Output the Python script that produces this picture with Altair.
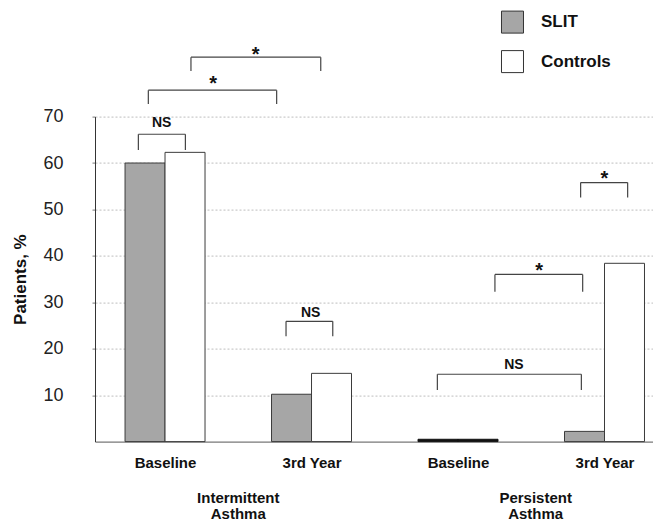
import altair as alt
import pandas as pd

# ---- data ----
tick_labels = ["Baseline", "3rd Year", "Baseline", "3rd Year"]
positions = [0, 1, 2, 3]
slit = [60.0, 10.2, 0.5, 2.2]
controls = [62.3, 14.7, 0.5, 38.4]
series_names = ["SLIT", "Controls"]

group_names = ["Intermittent\nAsthma", "Persistent\nAsthma"]
group_pos = [0.5, 2.53]

# significance brackets (x in category units, y in %)
br_x1 = [0.177, -0.114, -0.182, 0.826, 1.859, 2.252, 2.837]
br_x2 = [1.063, 0.762, 0.139, 1.145, 2.842, 2.851, 3.158]
br_top = [82.8, 75.7, 66.2, 25.9, 14.5, 36.0, 55.8]
br_bot = [79.8, 72.7, 62.8, 22.7, 11.1, 32.3, 52.6]
br_label = ["*", "*", "NS", "NS", "NS", "*", "*"]
br_lx = [0.619, 0.329, -0.023, 0.994, 2.382, 2.553, 3.0]
br_ly = [84.0, 77.7, 68.6, 27.8, 16.5, 37.3, 57.2]

FONT = "Liberation Sans"
HALF = 0.273

rows = []
for p, a, b in zip(positions, slit, controls):
    rows.append({"pos": p, "series": "SLIT", "value": a, "base": 0, "x0": p - HALF, "x1": p})
    rows.append({"pos": p, "series": "Controls", "value": b, "base": 0, "x0": p, "x1": p + HALF})
bars_df = pd.DataFrame(rows)

br_df = pd.DataFrame({"x1": br_x1, "x2": br_x2, "top": br_top, "bot": br_bot,
                      "label": br_label, "lx": br_lx, "ly": br_ly})
grp_df = pd.DataFrame({"name": group_names, "gx": group_pos})

xscale = alt.Scale(domain=[-0.478, 3.331], nice=False, zero=False)
yscale = alt.Scale(domain=[0, 70], nice=False)

label_arr = "[" + ",".join("'" + t + "'" for t in tick_labels) + "]"

xaxis = alt.Axis(values=positions, labelExpr=label_arr + "[datum.value]", title=None,
                 grid=False, ticks=False, labelFont=FONT, labelFontSize=15,
                 labelFontWeight="bold", labelColor="#111", labelPadding=14,
                 labelFlush=False, labelOverlap=False, domainColor="#555")
yaxis = alt.Axis(values=[10, 20, 30, 40, 50, 60, 70], title="Patients, %",
                 titleFont=FONT, titleFontSize=17, titleFontWeight="bold",
                 titleColor="#111", titleX=-70, titleBaseline="alphabetic",
                 labelFont=FONT, labelFontSize=18, labelColor="#222",
                 labelPadding=29, tickSize=3, tickColor="#777",
                 grid=True, gridColor="#bdbdbd", gridDash=[2, 2], gridWidth=1,
                 domainColor="#333")

color_enc = alt.Color("series:N",
                      scale=alt.Scale(domain=series_names, range=["#a6a6a6", "#ffffff"]),
                      legend=alt.Legend(title=None, orient="none", legendX=406, legendY=-106,
                                        symbolType="square", symbolSize=484,
                                        symbolStrokeColor="#333", symbolStrokeWidth=1,
                                        symbolOpacity=1, labelFont=FONT, labelFontSize=17,
                                        labelFontWeight="bold", labelColor="#111",
                                        labelOffset=17, rowPadding=12.5, padding=0))

bars = alt.Chart(bars_df).mark_rect(stroke="#3a3a3a", strokeWidth=1).encode(
    x=alt.X("x0:Q", scale=xscale, axis=xaxis),
    x2="x1:Q",
    y=alt.Y("value:Q", scale=yscale, axis=yaxis),
    y2="base:Q",
    color=alt.condition("datum.value < 1", alt.value("#111111"), color_enc),
    stroke=alt.condition("datum.value < 1", alt.value("#111111"), alt.value("#3a3a3a")),
)

rule_style = dict(color="#444", strokeWidth=1.2)
hline = alt.Chart(br_df).mark_rule(**rule_style).encode(
    x=alt.X("x1:Q", title=None), x2="x2:Q", y=alt.Y("top:Q"))
lline = alt.Chart(br_df).mark_rule(**rule_style).encode(
    x=alt.X("x1:Q", title=None), y=alt.Y("top:Q"), y2="bot:Q")
rline = alt.Chart(br_df).mark_rule(**rule_style).encode(
    x=alt.X("x2:Q", title=None), y=alt.Y("top:Q"), y2="bot:Q")

stars = alt.Chart(br_df).transform_filter("datum.label == '*'").mark_text(
    font=FONT, fontSize=20, fontWeight="bold", color="#111",
    baseline="alphabetic", dy=9).encode(
    x=alt.X("lx:Q", title=None), y=alt.Y("ly:Q"), text="label:N")
ns = alt.Chart(br_df).transform_filter("datum.label == 'NS'").mark_text(
    font=FONT, fontSize=14, fontWeight="bold", color="#111",
    baseline="alphabetic", dy=4).encode(
    x=alt.X("lx:Q", title=None), y=alt.Y("ly:Q"), text="label:N")

groups = alt.Chart(grp_df).mark_text(
    font=FONT, fontSize=15, fontWeight="bold", color="#111", baseline="top",
    lineBreak="\n", lineHeight=16).encode(
    x=alt.X("gx:Q", title=None), y=alt.value(374), text="name:N")

chart = alt.layer(bars, hline, lline, rline, stars, ns, groups).properties(
    width=558, height=325,
    autosize=alt.AutoSizeParams(type="none"),
    padding={"left": 87, "top": 108.6, "right": 0, "bottom": 79},
    background="white",
).configure_view(stroke=None)

chart.save("out.html", embed_options={"renderer": "svg", "actions": False})
